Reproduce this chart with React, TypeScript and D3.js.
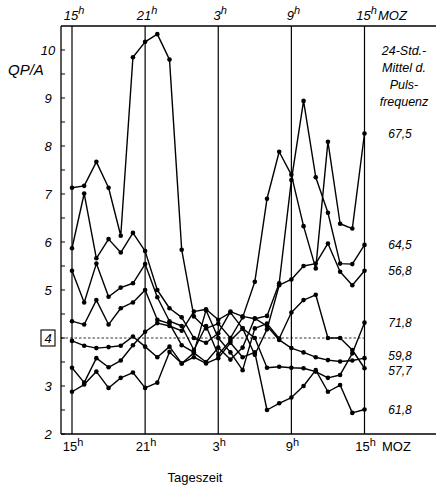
import React from 'react';
import * as d3 from 'd3';

// hourly readings, 15h .. 15h next day (25 points)
const hourLabels = ['15', '21', '3', '9', '15'];
const hourTickIdx = [0, 6, 12, 18, 24];
const yTicks = [2, 3, 4, 5, 6, 7, 8, 9, 10];

const p675 = [7.13, 7.17, 7.67, 7.13, 6.13, 9.85, 10.17, 10.33, 9.8, 5.84, 4.45, 4.2, 4.3, 4.0, 4.43, 5.17, 6.9, 7.88, 7.4, 6.33, 5.45, 8.09, 6.38, 6.28, 8.26];
const p645 = [5.87, 7.01, 5.66, 6.06, 5.78, 6.19, 5.81, 5.0, 4.62, 4.43, 4.0, 3.9, 4.1, 4.55, 4.45, 4.4, 4.46, 5.14, 7.29, 8.94, 7.35, 6.61, 5.55, 5.54, 5.94];
const p568 = [5.4, 4.74, 5.55, 4.86, 5.05, 5.14, 5.54, 4.85, 4.35, 4.25, 3.75, 4.25, 3.65, 3.95, 4.2, 3.65, 4.18, 5.1, 5.22, 5.5, 5.55, 5.97, 5.38, 5.1, 5.4];
const p577 = [4.35, 4.28, 4.79, 4.28, 4.62, 4.74, 5.0, 4.38, 4.3, 3.85, 3.7, 4.58, 4.0, 3.7, 3.33, 4.2, 4.3, 3.99, 4.53, 4.79, 4.9, 4.0, 4.0, 3.75, 3.37];
const p598 = [3.94, 3.84, 3.79, 3.81, 3.84, 4.03, 3.82, 3.6, 3.82, 3.47, 3.69, 3.5, 3.8, 3.55, 3.8, 4.41, 4.25, 3.96, 3.79, 3.7, 3.6, 3.54, 3.51, 3.53, 3.58];
const p718 = [3.38, 3.07, 3.58, 3.39, 3.53, 3.85, 4.13, 4.31, 4.25, 4.15, 4.55, 4.6, 4.38, 4.53, 4.2, 4.0, 3.38, 3.4, 3.38, 3.37, 3.3, 3.17, 3.23, 3.68, 4.32];
const p618 = [2.88, 3.03, 3.3, 2.96, 3.17, 3.28, 2.96, 3.07, 3.71, 3.47, 3.6, 3.47, 3.58, 3.9, 3.6, 3.7, 2.5, 2.64, 2.76, 3.0, 3.33, 2.88, 3.02, 2.44, 2.51];

const seriesList = [
  { label: '67,5', values: p675 },
  { label: '64,5', values: p645 },
  { label: '56,8', values: p568 },
  { label: '57,7', values: p577 },
  { label: '59,8', values: p598 },
  { label: '71,8', values: p718 },
  { label: '61,8', values: p618 },
];

const W = 436;
const H = 488;
const FONT = '"Liberation Sans", Arial, sans-serif';

export default function App() {
  const x = d3.scaleLinear().domain([0, 24]).range([72, 364.5]);
  const y = d3.scaleLinear().domain([2, 10]).range([434, 50]);
  const frameLeft = 61;
  const frameTop = 26;

  const line = d3
    .line<number>()
    .x((d, i) => x(i))
    .y(d => y(d));

  const halfTicks = d3.range(2, 10.01, 0.5);
  // the two close end labels are pushed apart a little
  const labelNudge: Record<string, number> = { '59,8': -2.5, '57,7': 2 };

  return (
    <svg width={W} height={H} style={{ position: 'absolute', left: 0, top: 0, background: '#fff' }}>
      {/* frame */}
      <line x1={frameLeft} x2={W} y1={frameTop} y2={frameTop} stroke="#000" strokeWidth={1.3} />
      <line x1={frameLeft} x2={W} y1={y(2)} y2={y(2)} stroke="#000" strokeWidth={1.3} />
      <line x1={frameLeft} x2={frameLeft} y1={frameTop} y2={y(2)} stroke="#000" strokeWidth={1.3} />
      {hourTickIdx.map(h => (
        <line key={h} x1={x(h)} x2={x(h)} y1={frameTop} y2={y(2)} stroke="#000" strokeWidth={1.2} />
      ))}
      <line x1={frameLeft} x2={x(24)} y1={y(4)} y2={y(4)} stroke="#000" strokeWidth={0.8} strokeDasharray="2.5,2" />

      {/* y ticks */}
      {halfTicks.map(t => (
        <line key={t} x1={frameLeft} x2={frameLeft + 4} y1={y(t)} y2={y(t)} stroke="#000" strokeWidth={1} />
      ))}
      {yTicks.map(t => (
        <text key={t} x={48} y={y(t)} dy="0.36em" textAnchor="middle" fontFamily={FONT}
          fontStyle="italic" fontSize={13}>{t}</text>
      ))}
      <rect x={41} y={y(4) - 8} width={14} height={16} fill="none" stroke="#000" strokeWidth={1.1} />
      <text x={8} y={75} fontFamily={FONT} fontStyle="italic" fontSize={15}>QP/A</text>

      {/* top hour labels */}
      {hourTickIdx.map((h, i) => (
        <text key={'t' + h} x={x(h) + 2} y={20} textAnchor="middle" fontFamily={FONT} fontStyle="italic" fontSize={13}>
          {hourLabels[i]}<tspan dy={-6} fontSize={11}>h</tspan>
        </text>
      ))}
      <text x={378} y={20} fontFamily={FONT} fontStyle="italic" fontSize={13}>MOZ</text>

      {/* bottom hour labels */}
      {hourTickIdx.map((h, i) => (
        <text key={'b' + h} x={x(h) + 1} y={451} textAnchor="middle" fontFamily={FONT} fontSize={13}>
          {hourLabels[i]}<tspan dy={-5} fontSize={11}>h</tspan>
        </text>
      ))}
      <text x={382} y={451} fontFamily={FONT} fontSize={13}>MOZ</text>
      <text x={195} y={482} textAnchor="middle" fontFamily={FONT} fontSize={13}>Tageszeit</text>

      {/* right annotation */}
      {['24-Std.-', 'Mittel d.', 'Puls-', 'frequenz'].map((s, i) => (
        <text key={s} x={404} y={55 + i * 17} textAnchor="middle" fontFamily={FONT} fontStyle="italic" fontSize={12.5}>{s}</text>
      ))}

      {/* series */}
      {seriesList.map(s => (
        <g key={s.label}>
          <path d={line(s.values) || ''} fill="none" stroke="#000" strokeWidth={1.4} strokeLinejoin="round" />
          {s.values.map((v, i) => (
            <circle key={i} cx={x(i)} cy={y(v)} r={2.3} fill="#000" />
          ))}
          <text x={400} y={y(s.values[s.values.length - 1]) + (labelNudge[s.label] || 0)} dy="0.36em"
            textAnchor="middle" fontFamily={FONT} fontStyle="italic" fontSize={12}>{s.label}</text>
        </g>
      ))}
    </svg>
  );
}
